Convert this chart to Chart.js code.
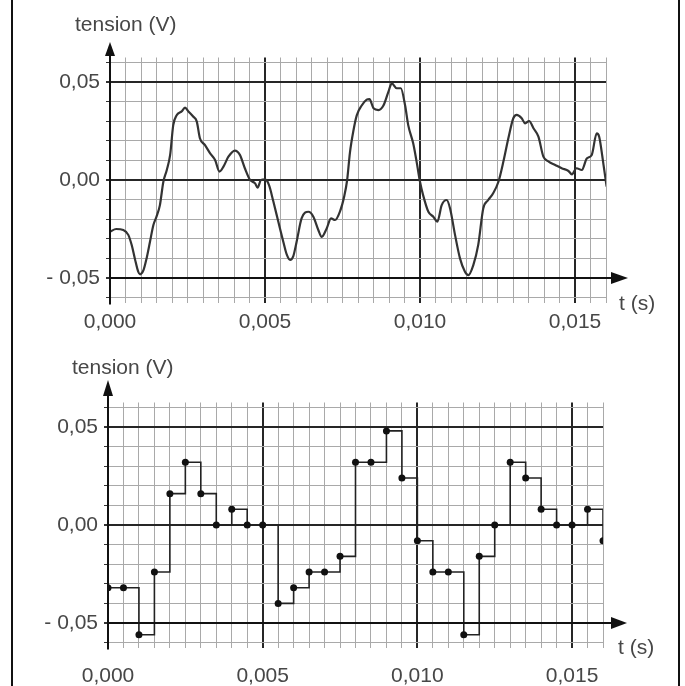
<!DOCTYPE html>
<html><head><meta charset="utf-8">
<script src="https://cdn.jsdelivr.net/npm/chart.js@4.4.0/dist/chart.umd.min.js"></script>
<style>
html,body{margin:0;padding:0;background:#fff;}
#wrap{position:relative;width:685px;height:686px;overflow:hidden;background:#fff;}
#frame{position:absolute;left:11px;top:0;width:665px;height:686px;border-left:2px solid #111;border-right:2px solid #111;}
canvas{position:absolute;left:0;}
#c1{top:0;} #c2{top:340px;}
</style></head>
<body>
<div id="wrap"><div id="frame"></div>
<canvas id="c1" width="685" height="340"></canvas>
<canvas id="c2" width="685" height="346"></canvas>
</div>
<script>
// Continuous signal (top chart), time in s, voltage in V
const curveTimes = [0.00000,0.00020,0.00043,0.00059,0.00070,0.00080,0.00091,0.00097,0.00108,0.00118,0.00129,0.00140,0.00150,0.00161,0.00172,0.00183,0.00194,0.00204,0.00215,0.00231,0.00242,0.00253,0.00269,0.00280,0.00290,0.00306,0.00323,0.00339,0.00353,0.00366,0.00382,0.00403,0.00419,0.00435,0.00452,0.00468,0.00476,0.00487,0.00500,0.00513,0.00527,0.00543,0.00559,0.00570,0.00581,0.00591,0.00602,0.00618,0.00640,0.00656,0.00672,0.00683,0.00699,0.00713,0.00726,0.00742,0.00756,0.00765,0.00774,0.00785,0.00796,0.00812,0.00828,0.00837,0.00850,0.00866,0.00882,0.00898,0.00909,0.00925,0.00938,0.00952,0.00962,0.00978,0.00989,0.01000,0.01010,0.01027,0.01043,0.01056,0.01070,0.01086,0.01097,0.01113,0.01129,0.01145,0.01156,0.01172,0.01188,0.01204,0.01220,0.01236,0.01253,0.01269,0.01285,0.01301,0.01312,0.01328,0.01339,0.01352,0.01366,0.01382,0.01398,0.01415,0.01436,0.01457,0.01479,0.01490,0.01505,0.01522,0.01538,0.01554,0.01570,0.01578,0.01592,0.01602];
const curveVolts = [-0.0264,-0.0250,-0.0255,-0.0280,-0.0332,-0.0400,-0.0468,-0.0481,-0.0460,-0.0400,-0.0315,-0.0230,-0.0187,-0.0128,-0.0010,0.0050,0.0128,0.0280,0.0330,0.0350,0.0369,0.0350,0.0323,0.0298,0.0213,0.0179,0.0136,0.0102,0.0043,0.0068,0.0119,0.0150,0.0128,0.0060,0.0000,-0.0017,-0.0039,0.0000,0.0003,-0.0026,-0.0110,-0.0213,-0.0315,-0.0380,-0.0408,-0.0390,-0.0315,-0.0196,-0.0162,-0.0187,-0.0255,-0.0290,-0.0247,-0.0196,-0.0204,-0.0160,-0.0080,0.0000,0.0140,0.0250,0.0330,0.0380,0.0410,0.0413,0.0366,0.0357,0.0380,0.0450,0.0493,0.0468,0.0468,0.0380,0.0280,0.0187,0.0094,-0.0009,-0.0077,-0.0162,-0.0187,-0.0213,-0.0128,-0.0102,-0.0145,-0.0280,-0.0400,-0.0468,-0.0485,-0.0434,-0.0330,-0.0145,-0.0102,-0.0068,-0.0009,0.0094,0.0213,0.0315,0.0332,0.0315,0.0289,0.0301,0.0264,0.0221,0.0119,0.0094,0.0077,0.0060,0.0046,0.0029,0.0060,0.0051,0.0110,0.0128,0.0238,0.0221,0.0077,-0.0034];

// Sampled & quantized signal (bottom chart)
const sampleTimes = [0.0000,0.0005,0.0010,0.0015,0.0020,0.0025,0.0030,0.0035,0.0040,0.0045,0.0050,0.0055,0.0060,0.0065,0.0070,0.0075,0.0080,0.0085,0.0090,0.0095,0.0100,0.0105,0.0110,0.0115,0.0120,0.0125,0.0130,0.0135,0.0140,0.0145,0.0150,0.0155,0.0160];
const sampleVolts = [-0.032,-0.032,-0.056,-0.024,0.016,0.032,0.016,0.000,0.008,0.000,0.000,-0.040,-0.032,-0.024,-0.024,-0.016,0.032,0.032,0.048,0.024,-0.008,-0.024,-0.024,-0.056,-0.016,0.000,0.032,0.024,0.008,0.000,0.000,0.008,-0.008];

const xMajorTicks = [0, 0.005, 0.010, 0.015];
const xMajorLabels = ['0,000', '0,005', '0,010', '0,015'];
const yMajorTicks = [-0.05, 0, 0.05];
const yMajorLabels = ['- 0,05', '0,00', '0,05'];
const yAxisTitle = 'tension (V)';
const xAxisTitle = 't (s)';

const FONT = '"Liberation Sans", Arial, sans-serif';
const TEXT = '#474747';

function near(v, arr) { return arr.findIndex(a => Math.abs(a - v) < 1e-7); }

function decor(g) {
  return { id: 'decor', afterDraw(chart) {
    const ctx = chart.ctx, xs = chart.scales.x, ys = chart.scales.y, a = chart.chartArea;
    const x0 = xs.getPixelForValue(0), yb = ys.getPixelForValue(-0.05);
    ctx.save();
    ctx.strokeStyle = '#111'; ctx.fillStyle = '#111'; ctx.lineWidth = 2;
    ctx.beginPath(); ctx.moveTo(x0, a.bottom + 2); ctx.lineTo(x0, g.yArrowBase); ctx.stroke();
    ctx.beginPath(); ctx.moveTo(x0, g.yArrowTip); ctx.lineTo(x0 - 5, g.yArrowBase + 1); ctx.lineTo(x0 + 5, g.yArrowBase + 1); ctx.closePath(); ctx.fill();
    ctx.beginPath(); ctx.moveTo(x0, yb); ctx.lineTo(g.xArrowBase, yb); ctx.stroke();
    ctx.beginPath(); ctx.moveTo(g.xArrowTip, yb); ctx.lineTo(g.xArrowBase - 1, yb - 6); ctx.lineTo(g.xArrowBase - 1, yb + 6); ctx.closePath(); ctx.fill();
    ctx.font = '21px ' + FONT; ctx.fillStyle = TEXT; ctx.textBaseline = 'middle'; ctx.textAlign = 'left';
    ctx.fillText(yAxisTitle, g.ytX, g.ytY);
    ctx.fillText(xAxisTitle, g.xtX, g.xtY);
    ctx.restore();
  }};
}

function makeChart(id, datasets, g) {
  const xGrid = []; for (let k = 0; k <= 32; k++) xGrid.push(+(k * 0.0005).toFixed(4));
  const yGrid = []; for (let k = -6; k <= 6; k++) yGrid.push(k / 100);
  const majX = c => c.tick && near(c.tick.value, xMajorTicks) >= 0;
  const majY = c => c.tick && near(c.tick.value, yMajorTicks) >= 0;
  return new Chart(document.getElementById(id), {
    type: 'line',
    data: { datasets },
    options: {
      responsive: false, animation: false, events: [],
      layout: { padding: { top: g.top, right: g.right, left: 0, bottom: 0 } },
      plugins: { legend: { display: false }, tooltip: { enabled: false } },
      scales: {
        x: {
          type: 'linear', min: 0, max: 0.016,
          afterBuildTicks: s => { s.ticks = xGrid.map(v => ({ value: v })); },
          afterFit: s => { s.height = g.xh; },
          border: { display: false },
          grid: { drawTicks: false, color: c => majX(c) ? '#262626' : '#a9a9a9', lineWidth: c => majX(c) ? 2 : 1 },
          ticks: { autoSkip: false, maxRotation: 0, minRotation: 0, padding: g.xpad, color: TEXT,
            font: { family: FONT, size: 21 },
            callback: v => { const i = near(v, xMajorTicks); return i >= 0 ? xMajorLabels[i] : ''; } }
        },
        y: {
          type: 'linear', min: -0.0625, max: 0.0625,
          afterBuildTicks: s => { s.ticks = yGrid.map(v => ({ value: v })); },
          afterFit: s => { s.width = g.left; },
          border: { display: false },
          grid: { drawTicks: true, tickLength: 4, tickColor: '#333', color: c => majY(c) ? '#262626' : '#a9a9a9', lineWidth: c => majY(c) ? 2 : 1 },
          ticks: { autoSkip: false, padding: 6, color: TEXT, font: { family: FONT, size: 21 },
            callback: v => { const i = near(v, yMajorTicks); return i >= 0 ? yMajorLabels[i] : ''; } }
        }
      }
    },
    plugins: [decor(g)]
  });
}

makeChart('c1', [{
  data: curveTimes.map((t, i) => ({ x: t, y: curveVolts[i] })),
  borderColor: '#333', borderWidth: 2.2, pointRadius: 0, fill: false,
  cubicInterpolationMode: 'monotone'
}], { top: 57.5, right: 79, left: 110, xh: 37.5, xpad: 7,
     yArrowTip: 42, yArrowBase: 55, xArrowBase: 612, xArrowTip: 628,
     ytX: 75, ytY: 25, xtX: 619, xtY: 304 });

makeChart('c2', [{
  data: sampleTimes.map((t, i) => ({ x: t, y: sampleVolts[i] })),
  borderColor: '#222', borderWidth: 1.6, stepped: true, fill: false,
  pointRadius: 3.5, pointBackgroundColor: '#111', pointBorderColor: '#111', pointBorderWidth: 0
}], { top: 62.5, right: 82, left: 108, xh: 38.5, xpad: 16,
     yArrowTip: 40, yArrowBase: 55, xArrowBase: 612, xArrowTip: 627,
     ytX: 72, ytY: 28, xtX: 618, xtY: 308 });
</script>
</body></html>
